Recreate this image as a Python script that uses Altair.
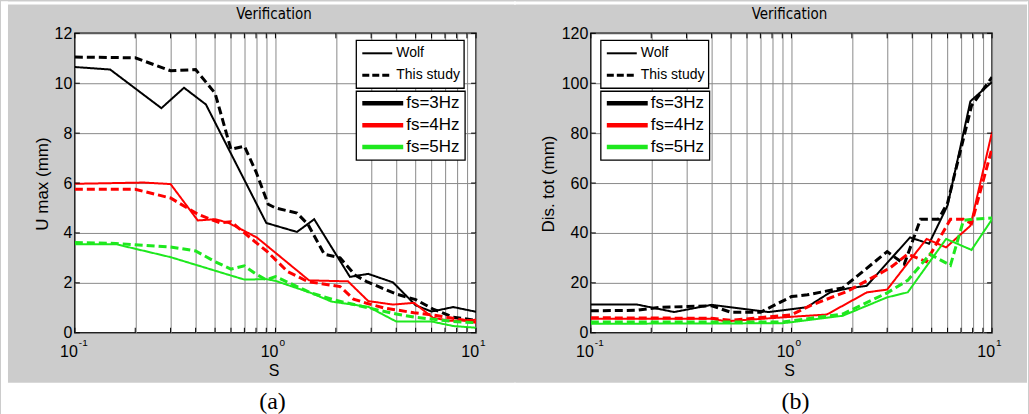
import altair as alt
import pandas as pd

# ---------------- data ----------------
FS_LEVELS = ["fs=3Hz", "fs=4Hz", "fs=5Hz"]
FS_COLORS = ["#000000", "#ff0000", "#1ee81e"]
STUDIES = ["Wolf", "This study"]

GRID_X = [0.1, 0.2, 0.3, 0.4, 0.5, 0.6, 0.7, 0.8, 0.9,
          1, 2, 3, 4, 5, 6, 7, 8, 9, 10]
X_MAJOR = [0.1, 1, 10]
X_EXP = ["-1", "0", "1"]
Y_TICKS_A = [0, 2, 4, 6, 8, 10, 12]
Y_TICKS_B = [0, 20, 40, 60, 80, 100, 120]

# Panel (a): U max (mm)
A_S_WOLF_3 = [0.1, 0.15, 0.27, 0.35, 0.45, 0.9, 1.28, 1.56, 2.35, 2.9, 3.85, 5.0, 6.0, 7.7, 10]
A_U_WOLF_3 = [10.65, 10.55, 9.0, 9.82, 9.15, 4.4, 4.04, 4.55, 2.24, 2.36, 2.02, 1.1, 0.85, 1.03, 0.84]
A_S_THIS_3 = [0.1, 0.2, 0.3, 0.4, 0.5, 0.6, 0.7, 0.8, 0.92, 1.0, 1.28, 1.45, 1.75, 2.1, 2.5, 2.85, 4.0, 5.0, 6.1, 7.7, 10]
A_U_THIS_3 = [11.05, 11.02, 10.5, 10.55, 9.6, 7.35, 7.48, 6.45, 5.15, 5.0, 4.8, 4.35, 3.15, 3.0, 2.3, 2.05, 1.55, 1.33, 0.95, 0.62, 0.5]
A_S_WOLF_4 = [0.1, 0.22, 0.3, 0.41, 0.5, 0.58, 0.7, 0.81, 1.47, 2.3, 2.9, 3.85, 4.9, 6.1, 7.4, 10]
A_U_WOLF_4 = [5.97, 6.02, 5.96, 4.5, 4.55, 4.41, 4.08, 3.81, 2.1, 2.06, 1.27, 1.13, 1.2, 0.6, 0.48, 0.52]
A_S_THIS_4 = [0.1, 0.2, 0.3, 0.41, 0.53, 0.6, 0.7, 0.91, 1.15, 1.45, 2.1, 2.45, 2.85, 3.45, 4.9, 6.0, 7.4, 10]
A_U_THIS_4 = [5.75, 5.75, 5.4, 4.75, 4.4, 4.45, 4.0, 3.25, 2.45, 2.05, 1.85, 1.35, 1.18, 1.0, 0.8, 0.72, 0.6, 0.42]
A_S_WOLF_5 = [0.1, 0.16, 0.3, 0.7, 0.9, 1.0, 1.5, 1.9, 2.9, 4.0, 6.0, 7.7, 10]
A_U_WOLF_5 = [3.55, 3.55, 3.03, 2.13, 2.15, 2.08, 1.6, 1.25, 1.04, 0.45, 0.45, 0.27, 0.2]
A_S_THIS_5 = [0.1, 0.16, 0.3, 0.4, 0.5, 0.6, 0.7, 0.8, 0.9, 1.0, 1.5, 1.95, 2.9, 4.0, 5.0, 6.0, 7.7, 10]
A_U_THIS_5 = [3.62, 3.58, 3.44, 3.28, 2.85, 2.55, 2.68, 2.35, 2.12, 2.25, 1.6, 1.32, 1.0, 0.75, 0.62, 0.55, 0.45, 0.4]

# Panel (b): Dis. tot (mm)
B_S_WOLF_3 = [0.1, 0.17, 0.26, 0.4, 0.77, 1.19, 1.56, 1.92, 2.37, 3.9, 4.85, 6.0, 7.8, 10]
B_D_WOLF_3 = [11.3, 11.3, 8.3, 11.2, 8.3, 10.2, 16.2, 17.8, 18.8, 38.2, 35.7, 51.0, 92.8, 100.5]
B_S_THIS_3 = [0.1, 0.17, 0.22, 0.4, 0.5, 0.7, 1.0, 1.2, 1.8, 3.0, 3.65, 4.4, 5.4, 6.0, 7.9, 10]
B_D_THIS_3 = [8.8, 9.0, 10.2, 10.8, 8.2, 8.2, 14.5, 15.2, 18.0, 32.5, 27.5, 45.5, 45.5, 52.0, 91.0, 102.5]
B_S_WOLF_4 = [0.1, 0.4, 0.47, 1.0, 1.5, 2.38, 3.0, 3.77, 4.72, 5.9, 7.8, 10]
B_D_WOLF_4 = [5.6, 5.6, 4.6, 6.4, 7.3, 16.2, 17.3, 27.6, 37.6, 34.2, 42.9, 80.5]
B_S_THIS_4 = [0.1, 0.4, 0.5, 1.0, 1.25, 1.9, 3.1, 3.8, 4.7, 6.2, 7.2, 7.9, 10]
B_D_THIS_4 = [6.0, 5.8, 5.0, 7.2, 11.0, 16.6, 26.0, 31.5, 28.5, 45.5, 45.5, 43.8, 74.0]
B_S_WOLF_5 = [0.1, 0.9, 1.8, 3.0, 3.8, 5.9, 7.9, 10]
B_D_WOLF_5 = [3.6, 3.8, 6.8, 14.2, 16.2, 37.6, 33.2, 45.5]
B_S_THIS_5 = [0.1, 0.9, 1.8, 3.0, 3.8, 4.9, 6.2, 7.2, 8.0, 10]
B_D_THIS_5 = [4.3, 4.3, 7.5, 16.0, 21.0, 31.5, 27.0, 45.0, 45.5, 46.0]


def build(series):
    rows = []
    for fs, study, xs, ys in series:
        for s, v in zip(xs, ys):
            rows.append({"S": s, "val": v, "fs": fs, "study": study})
    return pd.DataFrame(rows)


DF_A = build([
    ("fs=3Hz", "Wolf", A_S_WOLF_3, A_U_WOLF_3),
    ("fs=3Hz", "This study", A_S_THIS_3, A_U_THIS_3),
    ("fs=4Hz", "Wolf", A_S_WOLF_4, A_U_WOLF_4),
    ("fs=4Hz", "This study", A_S_THIS_4, A_U_THIS_4),
    ("fs=5Hz", "Wolf", A_S_WOLF_5, A_U_WOLF_5),
    ("fs=5Hz", "This study", A_S_THIS_5, A_U_THIS_5),
])
DF_B = build([
    ("fs=3Hz", "Wolf", B_S_WOLF_3, B_D_WOLF_3),
    ("fs=3Hz", "This study", B_S_THIS_3, B_D_THIS_3),
    ("fs=4Hz", "Wolf", B_S_WOLF_4, B_D_WOLF_4),
    ("fs=4Hz", "This study", B_S_THIS_4, B_D_THIS_4),
    ("fs=5Hz", "Wolf", B_S_WOLF_5, B_D_WOLF_5),
    ("fs=5Hz", "This study", B_S_THIS_5, B_D_THIS_5),
])

# ---------------- styling ----------------
FONT = "Liberation Sans, Arial, sans-serif"
FONT_C = "DejaVu Sans Condensed, Liberation Sans, sans-serif"
FONT_S = "Liberation Serif, Times New Roman, serif"
GRID_C = "#8a8a8a"
W, H = 402, 300
ONE = pd.DataFrame({"k": [0]})


def txt(text, x, y, size, font=FONT, align="center", baseline="middle", angle=None):
    kw = dict(text=text, font=font, fontSize=size, align=align, baseline=baseline, color="black")
    if angle is not None:
        kw["angle"] = angle
    return alt.Chart(ONE).mark_text(**kw).encode(x=alt.value(x), y=alt.value(y))


def hrule(x1, x2, y, color, width, dash=None):
    kw = dict(color=color, strokeWidth=width)
    if dash:
        kw["strokeDash"] = dash
    return alt.Chart(ONE).mark_rule(**kw).encode(x=alt.value(x1), x2=alt.value(x2), y=alt.value(y))


def box(x1, x2, y1, y2, fill="white", stroke=None, width=0):
    kw = dict(fill=fill)
    if stroke:
        kw["stroke"] = stroke
        kw["strokeWidth"] = width
    return alt.Chart(ONE).mark_rect(**kw).encode(
        x=alt.value(x1), x2=alt.value(x2), y=alt.value(y1), y2=alt.value(y2))


def legend_layers(lx):
    L = [box(lx, lx + 108, 7, 55, stroke="black", width=1.3),
         box(lx, lx + 109, 58, 127, stroke="black", width=1.3)]
    L.append(hrule(lx + 6, lx + 36, 20, "black", 2))
    L.append(txt("Wolf", lx + 40, 20, 14, align="left"))
    L.append(hrule(lx + 6, lx + 36, 42, "black", 3, dash=[7, 3]))
    L.append(txt("This study", lx + 40, 42, 14, align="left"))
    for i, (lab, col) in enumerate(zip(FS_LEVELS, FS_COLORS)):
        y = 70 + i * 22
        L.append(hrule(lx + 6, lx + 47, y, col, 4.5))
        L.append(txt(lab, lx + 50, y, 17, align="left"))
    return L


def panel(df, y_ticks, ymax, y_title, ytx, title_x, cap, cap_x, lx, strips):
    xs = alt.Scale(type="log", domain=[0.1, 10], nice=False)
    ys = alt.Scale(domain=[0, ymax], nice=False, zero=False)
    ax_x = alt.Axis(values=GRID_X, grid=True, gridColor=GRID_C, gridWidth=1,
                    labels=False, ticks=False, domain=False, title=None)
    ax_y = alt.Axis(values=y_ticks, grid=True, gridColor=GRID_C, gridWidth=1,
                    labels=True, labelFont=FONT, labelFontSize=16,
                    labelColor="black", labelPadding=3, labelOverlap=False,
                    labelBound=False, ticks=False, domain=False, title=None)
    X = alt.X("S:Q", scale=xs, axis=ax_x)
    Y = alt.Y("val:Q", scale=ys, axis=ax_y)

    lines = alt.Chart(df).mark_line(clip=True).encode(
        x=X, y=Y,
        color=alt.Color("fs:N", scale=alt.Scale(domain=FS_LEVELS, range=FS_COLORS), legend=None),
        strokeDash=alt.StrokeDash("study:N", scale=alt.Scale(domain=STUDIES, range=[[1, 0], [8, 4]]),
                                  legend=None),
        strokeWidth=alt.StrokeWidth("study:N", scale=alt.Scale(domain=STUDIES, range=[2, 3]),
                                    legend=None),
    )

    xt = pd.DataFrame({"S": GRID_X})
    yt = pd.DataFrame({"val": y_ticks})
    tick_bottom = alt.Chart(xt).mark_rule(color="black", strokeWidth=1).encode(
        x=X, y=alt.value(H), y2=alt.value(H - 5))
    tick_top = alt.Chart(xt).mark_rule(color="black", strokeWidth=1).encode(
        x=X, y=alt.value(0), y2=alt.value(5))
    tick_left = alt.Chart(yt).mark_rule(color="black", strokeWidth=1).encode(
        y=Y, x=alt.value(0), x2=alt.value(5))
    tick_right = alt.Chart(yt).mark_rule(color="black", strokeWidth=1).encode(
        y=Y, x=alt.value(W - 5), x2=alt.value(W))

    xl = pd.DataFrame({"S": X_MAJOR, "e": X_EXP})
    lab10 = alt.Chart(xl).mark_text(text="10", font=FONT, fontSize=16, align="right",
                                    baseline="alphabetic", dx=3, color="black").encode(
        x=X, y=alt.value(324))
    labexp = alt.Chart(xl).mark_text(font=FONT, fontSize=10, align="left",
                                     baseline="alphabetic", dx=4, color="black").encode(
        x=X, y=alt.value(313), text="e:N")

    layers = [lines, tick_bottom, tick_top, tick_left, tick_right, lab10, labexp]
    layers += legend_layers(lx)
    layers += [box(*s) for s in strips]
    layers += [
        txt("Verification", title_x, -19, 15, font=FONT_C),
        txt(y_title, ytx, 151, 17, angle=270),
        txt("S", title_x, 338, 16),
        txt(cap, cap_x, 369, 24, font=FONT_S),
    ]
    return alt.layer(*layers).properties(width=W, height=H)


left = panel(DF_A, Y_TICKS_A, 12, "U max (mm)", -32, 199.5, "(a)", 198, 282,
             [(-74, -67, -32, 382), (-74, 442, -32, -29), (-74, 442, 350, 382)])
right = panel(DF_B, Y_TICKS_B, 120, "Dis. tot (mm)", -42, 199, "(b)", 205, 10,
              [(-77, 438, -32, -29), (-77, 438, 350, 382), (437, 438, -32, 382)])

chart = alt.hconcat(left, right, spacing=115, bounds="flush").properties(
    background="#cccccc", padding=0
).configure_view(fill="white", stroke="black", strokeWidth=1.5)

chart.save("out.html", embed_options={"renderer": "svg", "actions": False})
